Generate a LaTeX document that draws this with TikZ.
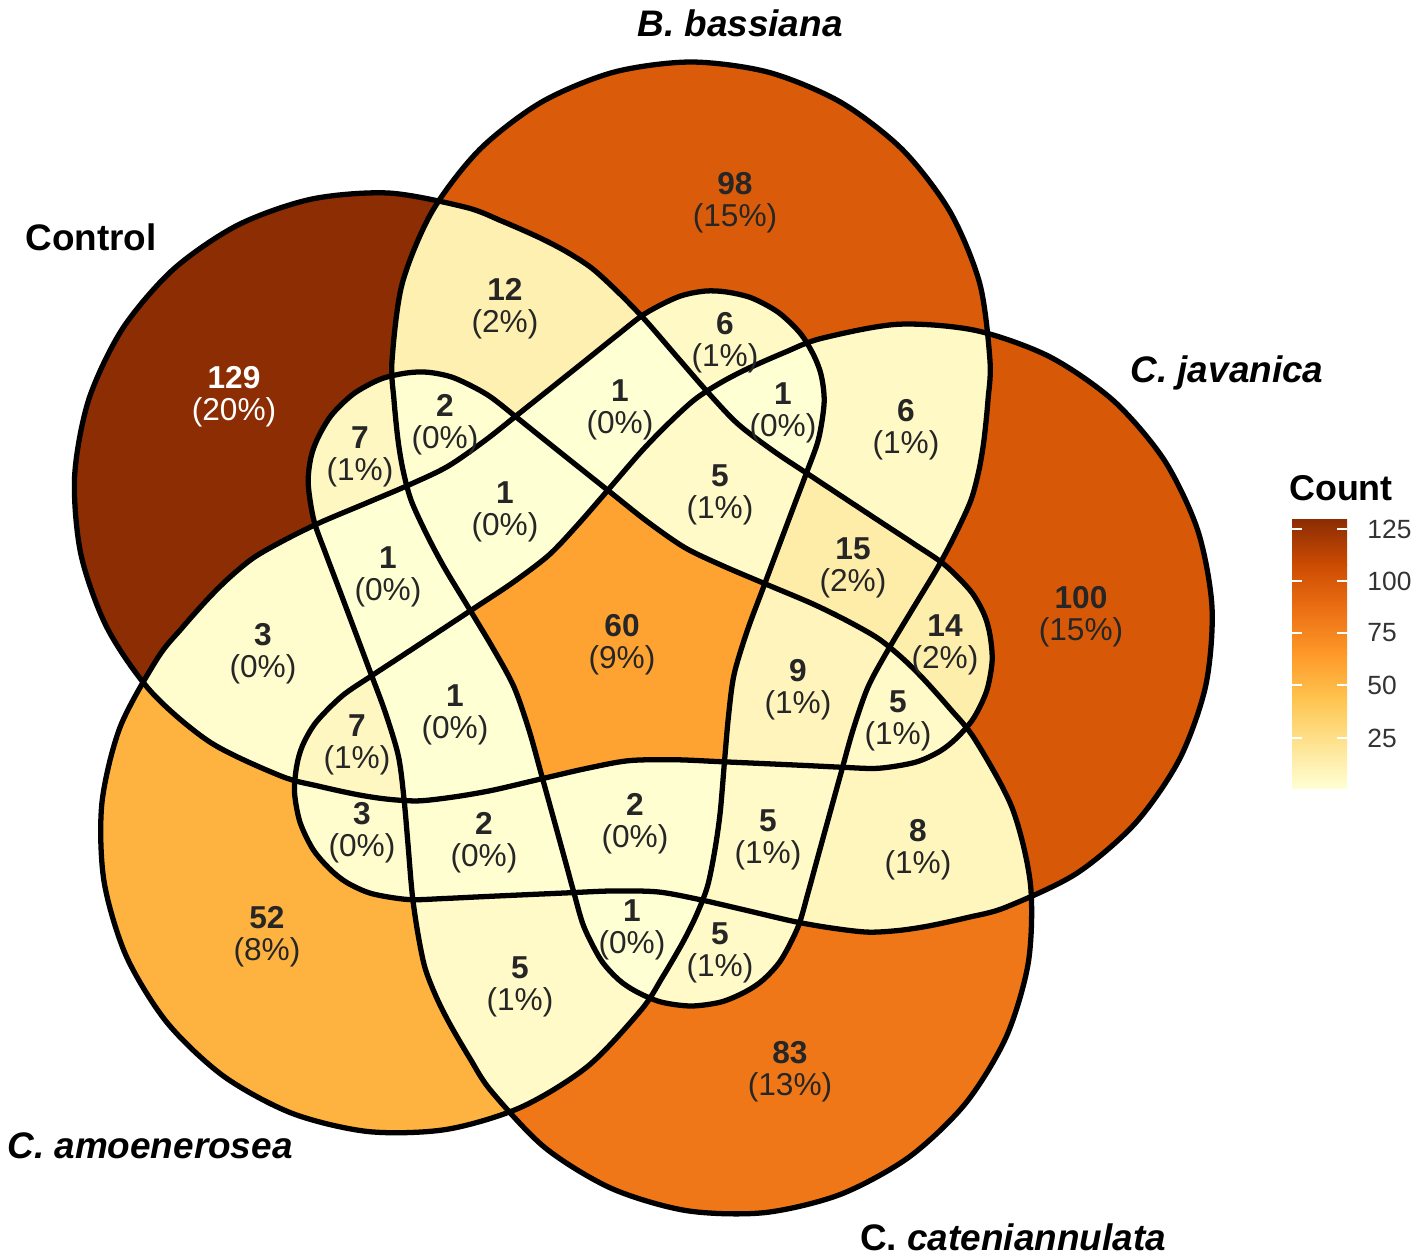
\documentclass[tikz,border=0pt]{standalone}
\usepackage{fontspec}
\setmainfont{Liberation Sans}
\usetikzlibrary{positioning}

% YlOrBr steps of the count scale
\definecolor{yl0}{HTML}{FFFFD4}
\definecolor{yl1}{HTML}{FEE391}
\definecolor{yl2}{HTML}{FEC44F}
\definecolor{yl3}{HTML}{FE9929}
\definecolor{yl4}{HTML}{EC7014}
\definecolor{yl5}{HTML}{CC4C02}
\definecolor{yl6}{HTML}{8C2D04}
\colorlet{v1}{yl0}
\colorlet{v2}{yl1!5!yl0}
\colorlet{v3}{yl1!9!yl0}
\colorlet{v5}{yl1!19!yl0}
\colorlet{v6}{yl1!23!yl0}
\colorlet{v7}{yl1!28!yl0}
\colorlet{v8}{yl1!33!yl0}
\colorlet{v9}{yl1!38!yl0}
\colorlet{v12}{yl1!52!yl0}
\colorlet{v14}{yl1!61!yl0}
\colorlet{v15}{yl1!66!yl0}
\colorlet{v52}{yl3!39!yl2}
\colorlet{v60}{yl3!77!yl2}
\colorlet{v83}{yl4!84!yl3}
\colorlet{v98}{yl5!55!yl4}
\colorlet{v100}{yl5!64!yl4}
\colorlet{v129}{yl6}

% one petal of the five-set diagram (y up, centre of the diagram at the origin)
\def\petal{plot[smooth cycle, tension=0.5] coordinates {
  (69,-361) (99,-357) (123,-347) (141,-335) (159,-315) (176,-282) (186,-248)
  (195,-215) (206,-175) (219,-128) (231,-85) (246,-42) (266,-5) (290,35) (316,78)
  (334,112) (349,145) (357,175) (362,205) (366,245)
  (368,284) (357.8,361.4) (327.9,433.5) (280.4,495.4) (218.5,542.9) (146.4,572.8)
  (69,583) (-8.4,572.8) (-80.5,542.9) (-142.4,495.4) (-189.9,433.5) (-219.8,361.4)
  (-230,284) (-228,245) (-224,205) (-219,175) (-211,145) (-196,112) (-178,78)
  (-152,35) (-128,-5) (-108,-42) (-93,-85) (-81,-128) (-68,-175) (-57,-215)
  (-48,-248) (-38,-282) (-21,-315) (-3,-335) (15,-347) (39,-357)}}
\newcommand{\oneset}[2]{\fill[#2, rotate=#1] \petal;}
\newcommand{\twoset}[3]{\begin{scope}\clip[rotate=#1] \petal; \fill[#3, rotate=#2] \petal;\end{scope}}
\newcommand{\threeset}[4]{\begin{scope}\clip[rotate=#1] \petal; \clip[rotate=#2] \petal;
  \fill[#4, rotate=#3] \petal;\end{scope}}
\newcommand{\fourset}[5]{\begin{scope}\clip[rotate=#1] \petal; \clip[rotate=#2] \petal;
  \clip[rotate=#3] \petal; \fill[#5, rotate=#4] \petal;\end{scope}}

\begin{document}
\begin{tikzpicture}[x=0.01cm, y=-0.01cm,
    outline/.style={draw=black, line width=1.5pt},
    count/.style={align=center, text=black!85, font=\fontsize{9}{9.2}\selectfont},
    setname/.style={anchor=base, font=\fontsize{10.5}{12}\selectfont\bfseries\itshape},
    tick/.style={draw=white, line width=0.6pt}
]
\useasboundingbox (0,0) rectangle (1417,1260);

% Sets: Control 72, B. bassiana 0, C. javanica -72, C. cateniannulata -144, C. amoenerosea 144
\begin{scope}[shift={(622,645)}, y=0.01cm]
  % one set
  \oneset{72}{v129} \oneset{0}{v98} \oneset{-72}{v100} \oneset{-144}{v83} \oneset{144}{v52}
  % two sets
  \twoset{72}{0}{v12}
  \twoset{72}{-72}{v14}
  \twoset{72}{-144}{v7}
  \twoset{72}{144}{v3}
  \twoset{0}{-72}{v6}
  \twoset{0}{-144}{v5}
  \twoset{0}{144}{v6}
  \twoset{-72}{-144}{v8}
  \twoset{-72}{144}{v3}
  \twoset{-144}{144}{v5}
  % three sets
  \threeset{72}{0}{-72}{v15}
  \threeset{72}{0}{-144}{v2}
  \threeset{72}{0}{144}{v1}
  \threeset{72}{-72}{-144}{v5}
  \threeset{72}{-72}{144}{v7}
  \threeset{72}{-144}{144}{v1}
  \threeset{0}{-72}{-144}{v5}
  \threeset{0}{-72}{144}{v1}
  \threeset{0}{-144}{144}{v1}
  \threeset{-72}{-144}{144}{v2}
  % four sets
  \fourset{72}{0}{-72}{-144}{v9}
  \fourset{72}{0}{-72}{144}{v5}
  \fourset{72}{0}{-144}{144}{v1}
  \fourset{72}{-72}{-144}{144}{v1}
  \fourset{0}{-72}{-144}{144}{v2}
  % all five
  \begin{scope}
    \clip[rotate=72] \petal; \clip \petal; \clip[rotate=-72] \petal; \clip[rotate=-144] \petal;
    \fill[v60, rotate=144] \petal;
  \end{scope}
  \foreach \a in {72,0,-72,-144,144}
    \draw[outline, rotate=\a] \petal;
\end{scope}

% Counts
\node[count, text=white] (nC) at (234,397) {\textbf{129}\\(20\%)};
\node[count] (nB) at (735,203) {\textbf{98}\\(15\%)};
\node[count] (nJ) at (1081,617) {\textbf{100}\\(15\%)};
\node[count] (nK) at (790,1072) {\textbf{83}\\(13\%)};
\node[count] (nA) at (267,937) {\textbf{52}\\(8\%)};
\node[count] (nCB) at (505,309) {\textbf{12}\\(2\%)};
\node[count] (nBA) at (725,343) {\textbf{6}\\(1\%)};
\node[count] (nCK) at (360,457) {\textbf{7}\\(1\%)};
\node[count] (nCBK) at (445,425) {\textbf{2}\\(0\%)};
\node[count] (nCBA) at (620,410) {\textbf{1}\\(0\%)};
\node[count] (nBJA) at (783,413) {\textbf{1}\\(0\%)};
\node[count] (nBJ) at (906,430) {\textbf{6}\\(1\%)};
\node[count] (nCBKA) at (505,512) {\textbf{1}\\(0\%)};
\node[count] (nCBJA) at (720,495) {\textbf{5}\\(1\%)};
\node[count] (nCBJ) at (853,568) {\textbf{15}\\(2\%)};
\node[count] (nCKA) at (388,577) {\textbf{1}\\(0\%)};
\node[count] (nCA) at (263,654) {\textbf{3}\\(0\%)};
\node[count] (nAll) at (622,645) {\textbf{60}\\(9\%)};
\node[count] (nCJ) at (945,645) {\textbf{14}\\(2\%)};
\node[count] (nCBJK) at (798,690) {\textbf{9}\\(1\%)};
\node[count] (nCJK) at (898,721) {\textbf{5}\\(1\%)};
\node[count] (nCJA) at (357,745) {\textbf{7}\\(1\%)};
\node[count] (nCJKA) at (455,715) {\textbf{1}\\(0\%)};
\node[count] (nJA) at (362,833) {\textbf{3}\\(0\%)};
\node[count] (nJKA) at (484,843) {\textbf{2}\\(0\%)};
\node[count] (nBJKA) at (635,824) {\textbf{2}\\(0\%)};
\node[count] (nBJK) at (768,840) {\textbf{5}\\(1\%)};
\node[count] (nJK) at (918,850) {\textbf{8}\\(1\%)};
\node[count] (nBKA) at (632,930) {\textbf{1}\\(0\%)};
\node[count] (nBK) at (720,953) {\textbf{5}\\(1\%)};
\node[count] (nKA) at (520,987) {\textbf{5}\\(1\%)};

% Set names
\node[setname, font=\fontsize{10.5}{12}\selectfont\bfseries] (sC) at (91,250) {Control};
\node[setname] (sB) at (740,36) {B. bassiana};
\node[setname] (sJ) at (1227,382) {C. javanica};
\node[setname] (sK) at (1013,1250) {\upshape C.\itshape{} cateniannulata};
\node[setname] (sA) at (150,1158) {C. amoenerosea};

% Legend
\node[anchor=base, font=\fontsize{10.2}{12}\selectfont\bfseries] (cnt) at (1341,500) {Count};
\foreach \k/\ca/\cb in {0/yl0/yl1,1/yl1/yl2,2/yl2/yl3,3/yl3/yl4,4/yl4/yl5,5/yl5/yl6}
  \shade[bottom color=\ca, top color=\cb] (1292,{788-44.67*\k+0.5}) rectangle (1347,{788-44.67*(\k+1)});
\foreach \v/\y in {125/529,100/581,75/633,50/685,25/738} {
  \draw[tick] (1292,\y) -- (1302,\y);
  \draw[tick] (1337,\y) -- (1347,\y);
  \node[anchor=west, text=black!80, font=\fontsize{7.5}{9}\selectfont] (t\v) at (1355,\y) {\v};
}

\end{tikzpicture}
\end{document}
